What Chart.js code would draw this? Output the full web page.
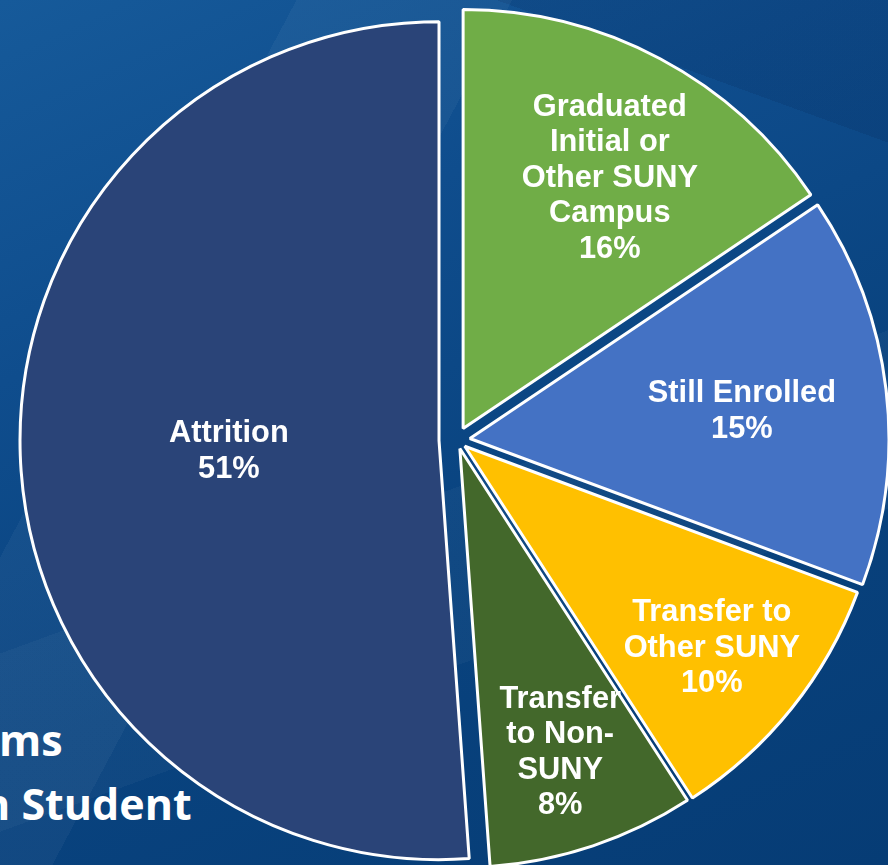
<!DOCTYPE html>
<html>
<head>
<meta charset="utf-8">
<script src="https://cdn.jsdelivr.net/npm/chart.js@4.4.0/dist/chart.umd.min.js"></script>
<style>
  html, body { margin: 0; padding: 0; }
  body {
    width: 888px; height: 865px; overflow: hidden; position: relative;
    background:
      linear-gradient(118deg, transparent 0 22%, rgba(255,255,255,0.04) 22% 38%, transparent 38%),
      linear-gradient(160deg, transparent 0 55%, rgba(255,255,255,0.03) 55% 70%, transparent 70%),
      linear-gradient(200deg, rgba(0,20,60,0.12) 0 12%, transparent 12%),
      linear-gradient(155deg, #165a9a 0%, #0f4d8d 30%, #09437f 60%, #063c75 100%);
  }
  .title {
    position: absolute; color: #fff; white-space: nowrap;
    font-family: "Open Sans", sans-serif; font-weight: 700;
    font-size: 43px; line-height: 43px;
  }
  #chartBox { position: absolute; left: 0; top: 0; }
</style>
</head>
<body>
<div class="title" style="left:-1px; top:718px;">ms</div>
<div class="title" style="left:-18px; top:782px;">n Student</div>
<div id="chartBox"><canvas id="pieChart" width="888" height="865"></canvas></div>
<script>
const categories = ['Graduated Initial or Other SUNY Campus', 'Still Enrolled', 'Transfer to Other SUNY', 'Transfer to Non-SUNY', 'Attrition'];
const labelLines = [
  ['Graduated', 'Initial or', 'Other SUNY', 'Campus'],
  ['Still Enrolled'],
  ['Transfer to', 'Other SUNY'],
  ['Transfer', 'to Non-', 'SUNY'],
  ['Attrition']
];
// shares; the printed labels are rounded
const percentages = [15.6, 15.1, 10.2, 8.0, 51.2];

const sliceColors = ['#70AD47', '#4472C4', '#FFC000', '#43682B', '#2A4478'];
// pixel distance each slice is pulled out from the centre
const sliceShift = [13, 13, 10, 9, 18];
// where the label sits: share of the radius, and a small turn off the bisector (deg)
const labelRadius = [0.697, 0.653, 0.758, 0.758, 0.502];
const labelTurn = [2.1, 0.55, 0.2, 0.1, -0.25];

function midAngle(arc) {
  return (arc.startAngle + arc.endAngle) / 2;
}

// chart.js' own offset also grows the radius, so pull the slices out by hand
const explode = {
  id: 'explode',
  beforeDatasetsDraw(chart) {
    const ctx = chart.ctx;
    chart.getDatasetMeta(0).data.forEach(function(arc, i) {
      const mid = midAngle(arc);
      ctx.save();
      ctx.translate(Math.cos(mid) * sliceShift[i], Math.sin(mid) * sliceShift[i]);
      arc.draw(ctx);
      ctx.restore();
    });
    return false;
  },
  afterDraw(chart) {
    const ctx = chart.ctx;
    ctx.save();
    ctx.fillStyle = '#ffffff';
    ctx.font = 'bold 30.8px "Liberation Sans", Arial, sans-serif';
    ctx.textAlign = 'center';
    ctx.textBaseline = 'middle';
    chart.getDatasetMeta(0).data.forEach(function(arc, i) {
      const mid = midAngle(arc);
      const ax = arc.x + Math.cos(mid) * sliceShift[i];
      const ay = arc.y + Math.sin(mid) * sliceShift[i];
      const a = mid + labelTurn[i] * Math.PI / 180;
      const r = arc.outerRadius * labelRadius[i];
      const cx = ax + Math.cos(a) * r;
      const cy = ay + Math.sin(a) * r + 2.5;
      const lines = labelLines[i].concat(Math.round(percentages[i]) + '%');
      const lh = 35.5;
      lines.forEach(function(t, k) {
        ctx.fillText(t, cx, cy + (k - (lines.length - 1) / 2) * lh);
      });
    });
    ctx.restore();
  }
};

new Chart(document.getElementById('pieChart').getContext('2d'), {
  type: 'pie',
  data: {
    labels: categories,
    datasets: [{
      data: percentages,
      backgroundColor: sliceColors,
      borderColor: '#ffffff',
      borderWidth: 3,
      clip: false
    }]
  },
  options: {
    responsive: false,
    animation: false,
    events: [],
    radius: 419,
    layout: { padding: { left: 26, top: 15, right: 0, bottom: 0 } },
    plugins: {
      legend: { display: false },
      tooltip: { enabled: false }
    }
  },
  plugins: [explode]
});
</script>
</body>
</html>
